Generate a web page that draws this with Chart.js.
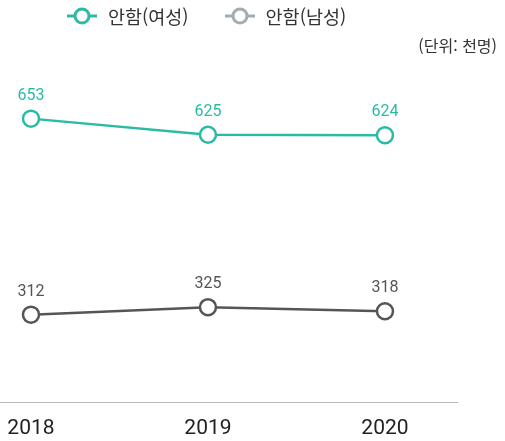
<!DOCTYPE html>
<html lang="ko">
<head>
    <meta charset="UTF-8">
    <title>안함 추이</title>
    <style>
        body {
            margin: 0;
            width: 505px;
            height: 441px;
            position: relative;
            overflow: hidden;
            background: #fff;
            font-family: Roboto, "Noto Sans CJK KR", sans-serif;
        }

        #legend {
            position: absolute;
            top: 3px;
            left: 66px;
            display: flex;
            align-items: center;
            font-size: 18.5px;
            color: #333;
            font-family: "Noto Sans CJK KR", sans-serif;
        }

        .legend-item {
            display: flex;
            align-items: center;
            margin-right: 35px;
        }

        .legend-icon {
            width: 32px;
            height: 24px;
            margin-right: 10px;
        }

        #unit {
            position: absolute;
            top: 33px;
            right: 8px;
            font-size: 16px;
            color: #333;
            font-family: "Noto Sans CJK KR", sans-serif;
        }

        #chart-box {
            position: absolute;
            left: 0;
            top: 0;
            width: 505px;
            height: 441px;
        }
    </style>
</head>
<body>
    <div id="chart-box"><canvas id="chart"></canvas></div>
    <div id="legend"></div>
    <div id="unit">(단위: 천명)</div>

    <script src="https://cdn.jsdelivr.net/npm/chart.js"></script>
    <script>
        const years = [2018, 2019, 2020];
        const women = [653, 625, 624];
        const men = [312, 325, 318];
        const seriesNames = ["안함(여성)", "안함(남성)"];

        const teal = "#2bbba5";
        const darkGrey = "#555555";
        const legendGrey = "#a3abb3";

        // html legend: line + hollow circle
        const legend = document.getElementById("legend");
        [[seriesNames[0], teal], [seriesNames[1], legendGrey]].forEach(([name, color]) => {
            const item = document.createElement("div");
            item.className = "legend-item";
            item.innerHTML = `
                <svg class="legend-icon" viewBox="0 0 32 24">
                    <line x1="1" y1="12" x2="31" y2="12" stroke="${color}" stroke-width="3"/>
                    <circle cx="16" cy="12" r="7" fill="#fff" stroke="${color}" stroke-width="3"/>
                </svg>
                <span>${name}</span>`;
            legend.appendChild(item);
        });

        const valueLabels = {
            id: "valueLabels",
            afterDatasetsDraw(chart) {
                const ctx = chart.ctx;
                ctx.save();
                ctx.font = "16px Roboto, sans-serif";
                ctx.textAlign = "center";
                ctx.textBaseline = "middle";
                chart.data.datasets.forEach((ds, i) => {
                    const meta = chart.getDatasetMeta(i);
                    ctx.fillStyle = ds.borderColor;
                    meta.data.forEach((pt, j) => {
                        ctx.fillText(ds.data[j].y, pt.x, pt.y - 23);
                    });
                });
                ctx.restore();
            }
        };

        const toPoints = vals => vals.map((v, i) => ({ x: years[i], y: v }));

        new Chart(document.getElementById("chart"), {
            type: "line",
            data: {
                datasets: [
                    {
                        label: seriesNames[0],
                        data: toPoints(women),
                        borderColor: teal,
                        borderWidth: 2.5,
                        pointRadius: 8,
                        pointBorderWidth: 2.5,
                        pointBackgroundColor: "#fff",
                        pointBorderColor: teal
                    },
                    {
                        label: seriesNames[1],
                        data: toPoints(men),
                        borderColor: darkGrey,
                        borderWidth: 2.5,
                        pointRadius: 8,
                        pointBorderWidth: 2.5,
                        pointBackgroundColor: "#fff",
                        pointBorderColor: darkGrey
                    }
                ]
            },
            options: {
                responsive: true,
                maintainAspectRatio: false,
                animation: false,
                layout: {
                    autoPadding: false,
                    padding: { top: 60, right: 48, left: 0, bottom: 0 }
                },
                plugins: {
                    legend: { display: false },
                    tooltip: { enabled: false }
                },
                scales: {
                    x: {
                        type: "linear",
                        min: 2017.825,
                        max: 2020.407,
                        afterBuildTicks: scale => {
                            scale.ticks = years.map(y => ({ value: y }));
                        },
                        afterFit: scale => {
                            scale.height = 39;
                            scale.paddingLeft = 0;
                            scale.paddingRight = 0;
                        },
                        grid: { display: false, drawTicks: false },
                        border: { display: true, color: "#b8b8b8", width: 1 },
                        ticks: {
                            padding: 14,
                            color: "#222",
                            font: { family: "Roboto", size: 21 },
                            callback: v => String(v)
                        }
                    },
                    y: {
                        display: false,
                        min: 160,
                        max: 755
                    }
                }
            },
            plugins: [valueLabels]
        });
    </script>
</body>
</html>
